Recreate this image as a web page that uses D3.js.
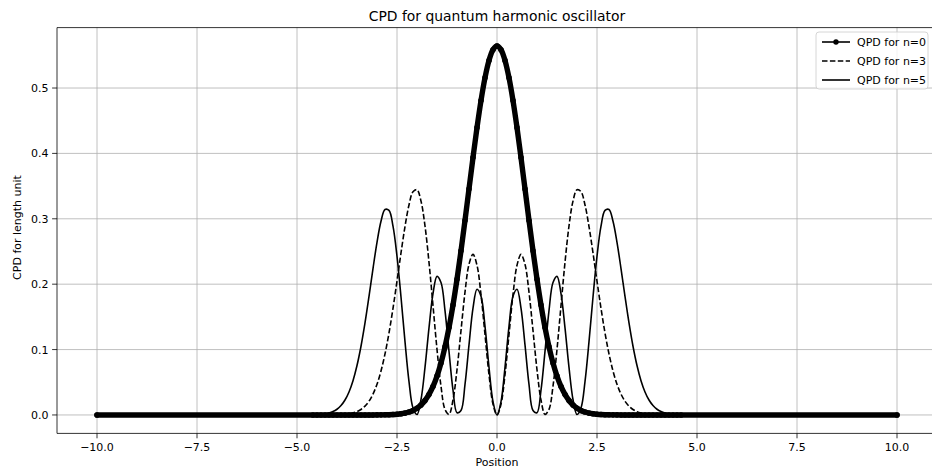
<!DOCTYPE html>
<html lang="en">
<head>
    <meta charset="UTF-8">
    <title>CPD for quantum harmonic oscillator</title>
    <script src="https://d3js.org/d3.v7.min.js"></script>
    <style>
        body { margin: 0; background: white; }
        svg { font-family: "DejaVu Sans", sans-serif; display: block; }
        .grid line { stroke: #b0b0b0; stroke-width: 0.8; }
    </style>
</head>
<body>
    <svg width="932" height="470"></svg>

    <script>
        // sampling grid of the curves (tails are flat at zero out to +-10)
        const positions = [-10, ...d3.range(-46, 47).map(i => i / 10), 10];

        // probability density, x = -10, -4.6 ... 4.6, 10
        const qpdN0 = [0,
            0, 0, 0, 0, 0, 0, 0, 0, 0, 0, 0, 0,
            0.00001, 0.00001, 0.00002, 0.00004,
            0.00007, 0.00013, 0.00022, 0.00038, 0.00065, 0.00109, 0.00178, 0.00284, 0.00446, 0.00686,
            0.01033, 0.01526, 0.02210, 0.03136, 0.04361, 0.05947, 0.07947, 0.10410, 0.13367, 0.16824,
            0.20755, 0.25099, 0.29749, 0.34564, 0.39362, 0.43939, 0.48077, 0.51563, 0.54207, 0.55858,
            0.56419,
            0.55858, 0.54207, 0.51563, 0.48077, 0.43939, 0.39362, 0.34564, 0.29749, 0.25099, 0.20755,
            0.16824, 0.13367, 0.10410, 0.07947, 0.05947, 0.04361, 0.03136, 0.02210, 0.01526, 0.01033,
            0.00686, 0.00446, 0.00284, 0.00178, 0.00109, 0.00065, 0.00038, 0.00022, 0.00013, 0.00007,
            0.00004, 0.00002, 0.00001, 0.00001,
            0, 0, 0, 0, 0, 0, 0, 0, 0, 0, 0, 0,
            0];

        const qpdN3 = [0,
            0, 0.00001, 0.00002, 0.00004, 0.00008, 0.00015, 0.00029, 0.00053, 0.00097, 0.00174, 0.00301, 0.00510,
            0.00840, 0.01347, 0.02101, 0.03188,
            0.04700, 0.06725, 0.09332, 0.12544, 0.16310, 0.20479, 0.24778, 0.28819, 0.32116, 0.34146,
            0.34445, 0.32707, 0.28900, 0.23344, 0.16727, 0.10035, 0.04395, 0.00847, 0.00092, 0.02283,
            0.06918, 0.12905, 0.18776, 0.23036, 0.24554, 0.22885, 0.18416, 0.12302, 0.06163, 0.01654,
            0,
            0.01654, 0.06163, 0.12302, 0.18416, 0.22885, 0.24554, 0.23036, 0.18776, 0.12905, 0.06918,
            0.02283, 0.00092, 0.00847, 0.04395, 0.10035, 0.16727, 0.23344, 0.28900, 0.32707, 0.34445,
            0.34146, 0.32116, 0.28819, 0.24778, 0.20479, 0.16310, 0.12544, 0.09332, 0.06725, 0.04700,
            0.03188, 0.02101, 0.01347, 0.00840,
            0.00510, 0.00301, 0.00174, 0.00097, 0.00053, 0.00029, 0.00015, 0.00008, 0.00004, 0.00002, 0.00001, 0,
            0];

        const qpdN5 = [0,
            0.00025, 0.00048, 0.00090, 0.00166, 0.00298, 0.00518, 0.00875, 0.01435, 0.02282, 0.03516, 0.05243, 0.07556,
            0.10509, 0.14080, 0.18133, 0.22386,
            0.26404, 0.29622, 0.31428, 0.31279, 0.28867, 0.24269, 0.18039, 0.11204, 0.05098, 0.01063,
            0.00069, 0.02362, 0.07277, 0.13321, 0.18556, 0.21198, 0.20258, 0.15952, 0.09724, 0.03793,
            0.00346, 0.00688, 0.04675, 0.10710, 0.16342, 0.19235, 0.18163, 0.13543, 0.07293, 0.02039,
            0,
            0.02039, 0.07293, 0.13543, 0.18163, 0.19235, 0.16342, 0.10710, 0.04675, 0.00688, 0.00346,
            0.03793, 0.09724, 0.15952, 0.20258, 0.21198, 0.18556, 0.13321, 0.07277, 0.02362, 0.00069,
            0.01063, 0.05098, 0.11204, 0.18039, 0.24269, 0.28867, 0.31279, 0.31428, 0.29622, 0.26404,
            0.22386, 0.18133, 0.14080, 0.10509,
            0.07556, 0.05243, 0.03516, 0.02282, 0.01435, 0.00875, 0.00518, 0.00298, 0.00166, 0.00090, 0.00048, 0.00025,
            0];

        const xTicks = [-10, -7.5, -5, -2.5, 0, 2.5, 5, 7.5, 10];
        const yTicks = [0, 0.1, 0.2, 0.3, 0.4, 0.5];
        const seriesNames = ["QPD for n=0", "QPD for n=3", "QPD for n=5"];

        const svg = d3.select("svg");
        const plotLeft = 57, plotRight = 937, plotTop = 27.6, plotBottom = 433.4;

        const x = d3.scaleLinear().domain([-11, 11]).range([plotLeft, plotRight]);
        const y = d3.scaleLinear().domain([-0.02821, 0.59240]).range([plotBottom, plotTop]);

        // grid
        const grid = svg.append("g").attr("class", "grid");
        grid.selectAll(".gx").data(xTicks).enter().append("line")
            .attr("x1", d => x(d)).attr("x2", d => x(d))
            .attr("y1", plotTop).attr("y2", plotBottom);
        grid.selectAll(".gy").data(yTicks).enter().append("line")
            .attr("x1", plotLeft).attr("x2", plotRight)
            .attr("y1", d => y(d)).attr("y2", d => y(d));

        svg.append("clipPath").attr("id", "plot")
            .append("rect").attr("x", plotLeft).attr("y", plotTop)
            .attr("width", plotRight - plotLeft).attr("height", plotBottom - plotTop);

        const plot = svg.append("g").attr("clip-path", "url(#plot)");
        const pts = vals => positions.map((p, i) => [p, vals[i]]);
        const line = d3.line().x(d => x(d[0])).y(d => y(d[1])).curve(d3.curveCatmullRom);

        // n=0 : line with dense point markers (reads as a thick beaded band)
        plot.append("path")
            .attr("d", line(pts(qpdN0)))
            .attr("fill", "none").attr("stroke", "black")
            .attr("stroke-width", 5.4).attr("stroke-linejoin", "round").attr("stroke-linecap", "round");
        plot.selectAll(".m0").data(pts(qpdN0)).enter().append("circle")
            .attr("cx", d => x(d[0])).attr("cy", d => y(d[1])).attr("r", 2.8).attr("fill", "black");

        plot.append("path")
            .attr("d", line(pts(qpdN3)))
            .attr("fill", "none").attr("stroke", "black")
            .attr("stroke-width", 1.6).attr("stroke-dasharray", "5.5,2.4");

        plot.append("path")
            .attr("d", line(pts(qpdN5)))
            .attr("fill", "none").attr("stroke", "black")
            .attr("stroke-width", 1.6);

        // spines
        const spine = (x1, y1, x2, y2) => svg.append("line")
            .attr("x1", x1).attr("y1", y1).attr("x2", x2).attr("y2", y2)
            .attr("stroke", "black").attr("stroke-width", 0.8);
        spine(plotLeft, plotTop, plotLeft, plotBottom);
        spine(plotLeft, plotBottom, plotRight, plotBottom);
        spine(plotLeft, plotTop, plotRight, plotTop);
        spine(plotRight, plotTop, plotRight, plotBottom);

        // x ticks
        const fmt = d => d3.format(".1f")(d).replace("-", "\u2212");
        const xt = svg.append("g").selectAll("g").data(xTicks).enter().append("g")
            .attr("transform", d => `translate(${x(d)},${plotBottom})`);
        xt.append("line").attr("y2", 4.9).attr("stroke", "black").attr("stroke-width", 0.8);
        xt.append("text").attr("y", 17.5).attr("text-anchor", "middle")
            .style("font-size", "11px").text(fmt);

        // y ticks
        const yt = svg.append("g").selectAll("g").data(yTicks).enter().append("g")
            .attr("transform", d => `translate(${plotLeft},${y(d)})`);
        yt.append("line").attr("x2", -4.9).attr("stroke", "black").attr("stroke-width", 0.8);
        yt.append("text").attr("x", -8.5).attr("dy", "0.36em").attr("text-anchor", "end")
            .style("font-size", "11px").text(fmt);

        // labels and title
        svg.append("text").attr("x", (plotLeft + plotRight) / 2).attr("y", 466)
            .attr("text-anchor", "middle").style("font-size", "11px").text("Position");
        svg.append("text").attr("transform", `translate(21,${(plotTop + plotBottom) / 2 - 3}) rotate(-90)`)
            .attr("text-anchor", "middle").style("font-size", "11px").text("CPD for length unit");
        svg.append("text").attr("x", (plotLeft + plotRight) / 2).attr("y", 21)
            .attr("text-anchor", "middle").style("font-size", "13.9px").text("CPD for quantum harmonic oscillator");

        // legend
        const legend = svg.append("g").attr("transform", "translate(816, 32)");
        legend.append("rect")
            .attr("width", 112).attr("height", 57).attr("rx", 3)
            .attr("fill", "white").attr("fill-opacity", 0.8)
            .attr("stroke", "#cccccc").attr("stroke-width", 0.8);

        const items = legend.selectAll(".legend-item").data(seriesNames).enter().append("g")
            .attr("class", "legend-item")
            .attr("transform", (d, i) => `translate(6, ${10 + i * 19})`);
        items.append("line").attr("x1", 0).attr("x2", 28)
            .attr("stroke", "black").attr("stroke-width", 1.6)
            .attr("stroke-dasharray", (d, i) => i === 1 ? "5.5,2.4" : null);
        items.filter((d, i) => i === 0).append("circle")
            .attr("cx", 14).attr("r", 2.7).attr("fill", "black");
        items.append("text").attr("x", 35).attr("dy", "0.36em")
            .style("font-size", "11px").text(d => d);
    </script>
</body>
</html>
